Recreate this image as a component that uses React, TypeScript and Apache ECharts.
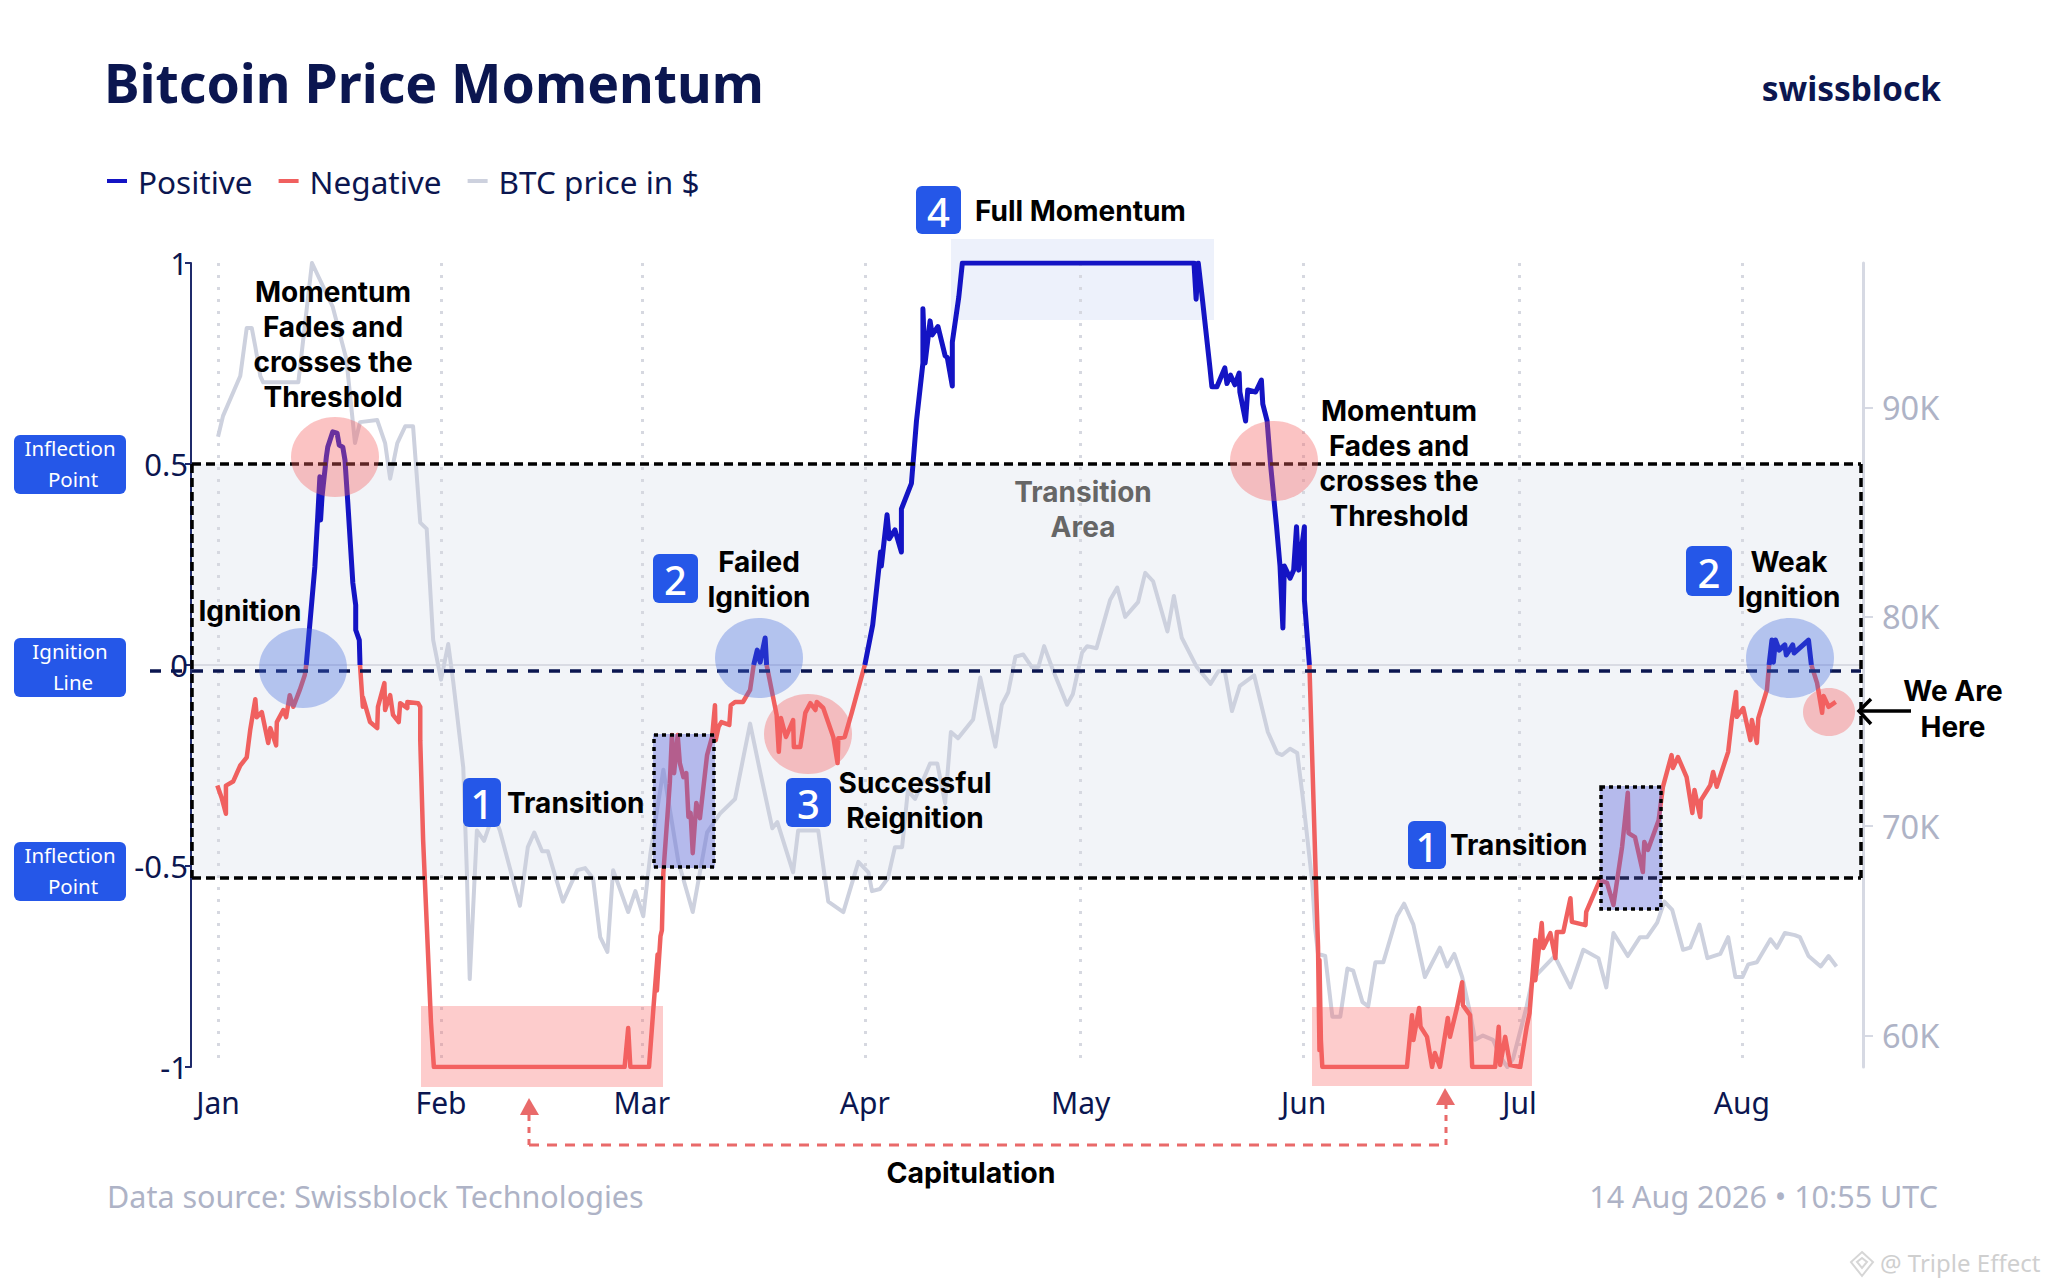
import React, { useEffect, useRef } from "react";
import * as echarts from "echarts";

const W = 2048;
const H = 1287;

const monthLabels = ["Jan", "Feb", "Mar", "Apr", "May", "Jun", "Jul", "Aug"];
const monthTicks = [0, 31.1, 59.1, 90.2, 120.3, 151.4, 181.5, 212.5];
const priceTicks = [60000, 70000, 80000, 90000];

const momentumDays = [
  -0.1, 0.5, 1.1, 1.1, 2.1, 3.1, 4, 4.5, 5.2, 5.4, 6.1, 7, 7.3, 8.1, 8.2, 9.1, 9.5, 10, 10.5, 11.4, 12.1, 12.3,
  13.5, 13.9, 14.2, 14.3, 14.5, 15.1, 15.3, 16, 16.6, 16.9, 17.4, 17.7, 18.1, 18.8, 19.2, 19.2, 19.7, 19.8,
  20.2, 20.2, 21.2, 22.2, 22.3, 23.2, 23.3, 24, 24.4, 25.2, 25.4, 26.4, 26.4, 27.9, 28.2, 28.2, 28.6, 29.1, 29.7, 30.1,
  56.7, 57.2, 57.5, 60.1, 60.7, 61.3, 61.2, 61.7, 61.9, 62.1, 63, 63.3, 63.6, 64.1, 64.4, 64.9, 65.3, 65.6, 65.9, 66.2, 66.7, 67.2,
  68.2, 68.9, 69.3, 69.4, 69.8, 70.2, 71.3, 71.5, 72.1, 73.2, 74.2, 74.7, 75.2, 75.6, 76.3, 76.5,
  76.7, 77.4, 77.9, 78.2, 78.5, 79.2, 80.2, 80.3, 81.2, 81.9, 82.6, 83.3, 83.5, 84.4, 85.8, 86.4, 86.5, 87.4, 88.4, 89.5, 90.2,
  91.3, 92.4, 92.5, 93.3, 93.6, 94.4, 95.3, 95.3, 96.7, 97.4, 98.3, 98.3, 98.6, 99.3, 99.6, 100.4, 101.4, 101.7, 102.4, 102.4, 103.3, 103.8,
  136.1, 136.4, 136.7, 137.3, 138.3, 138.6, 139.3, 140.4, 140.7, 141.2, 141.8, 142.4, 142.5, 143.3, 143.6, 144.7, 145.5, 145.7, 146.3, 146.8,
  147.6, 148.1, 148.5, 148.7, 149.5, 150, 150.4, 150.7, 151.5, 151.5, 152.2,
  153.1, 153.4, 153.6, 153.6, 153.8, 154, 165.8, 166.5, 166.7, 167.5, 167.7, 168.6, 169.3, 169.7, 170.4, 171.5, 171.8, 172.8, 173.5, 173.6, 174.6, 174.9,
  178.1, 178.6, 178.8, 179.5, 180.2, 181.6, 182.5, 182.9, 183.7, 183.7, 184.6, 184.8, 185.8, 186.5, 186.7, 187.6, 188.6, 188.8, 190.7, 190.8, 192.7, 193.7, 194.6,
  195.8, 196.6, 196.7, 197.6, 198.7, 198.9, 199.4, 200.9, 201.5, 202.7, 202.9, 203.6, 204.8, 205.6, 205.9, 206.7, 206.8, 208.1, 208.5, 209, 210.6, 211.1, 211.7, 211.8,
  212.7, 213.7, 213.9, 214.6, 214.8, 216, 216.3, 216.7, 216.9, 217.2, 217.7, 218.5, 218.7, 219.6, 219.8, 221.8, 222.2, 223, 223.7, 223.9, 224.6, 225.6,
];

const momentumValues = [
  -0.3, -0.33, -0.37, -0.3, -0.29, -0.25, -0.23, -0.16, -0.085, -0.13, -0.117, -0.194, -0.157, -0.2, -0.142, -0.112, -0.13, -0.075, -0.104, -0.062, -0.025, 0,
  0.244, 0.368, 0.468, 0.361, 0.418, 0.517, 0.542, 0.58, 0.577, 0.547, 0.542, 0.51, 0.403, 0.204, 0.149, 0.087, 0.062, 0,
  -0.104, -0.08, -0.142, -0.157, -0.104, -0.045, -0.112, -0.075, -0.124, -0.142, -0.095, -0.107, -0.092, -0.095, -0.104, -0.187, -0.435, -0.642, -0.89, -1,
  -1, -0.903, -1, -1, -0.858, -0.72, -0.81, -0.675, -0.66, -0.517, -0.294, -0.174, -0.269, -0.174, -0.244, -0.279, -0.269, -0.378, -0.368, -0.468, -0.343, -0.381,
  -0.224, -0.179, -0.1, -0.187, -0.154, -0.142, -0.149, -0.1, -0.092, -0.092, -0.062, 0, 0.037, 0.007, 0.067, 0,
  -0.017, -0.08, -0.124, -0.216, -0.132, -0.179, -0.137, -0.204, -0.204, -0.119, -0.095, -0.112, -0.092, -0.107, -0.179, -0.244, -0.182, -0.179, -0.117, -0.045, 0,
  0.1, 0.281, 0.246, 0.374, 0.314, 0.336, 0.281, 0.388, 0.452, 0.607, 0.751, 0.886, 0.751, 0.856, 0.821, 0.842, 0.769, 0.765, 0.694, 0.803, 0.915, 1,
  1, 0.91, 1, 0.906, 0.744, 0.692, 0.692, 0.739, 0.7, 0.721, 0.697, 0.726, 0.679, 0.607, 0.684, 0.679, 0.709, 0.649, 0.607, 0.495,
  0.348, 0.246, 0.092, 0.246, 0.216, 0.236, 0.344, 0.236, 0.344, 0.162, 0,
  -0.535, -0.7, -0.958, -0.734, -0.933, -1, -1, -0.871, -0.933, -0.853, -0.9, -0.925, -1, -0.965, -1, -0.878, -0.925, -0.851, -0.789, -0.846, -0.871, -1,
  -1, -0.9, -0.995, -0.925, -0.995, -1, -0.9, -0.866, -0.684, -0.784, -0.642, -0.704, -0.667, -0.729, -0.664, -0.664, -0.58, -0.639, -0.647, -0.614, -0.535, -0.542, -0.597,
  -0.453, -0.318, -0.418, -0.428, -0.515, -0.44, -0.46, -0.386, -0.303, -0.224, -0.256, -0.229, -0.279, -0.368, -0.311, -0.378, -0.336, -0.299, -0.266, -0.303, -0.216, -0.137, -0.067, -0.129,
  -0.107, -0.187, -0.137, -0.194, -0.132, -0.062, 0, 0.062, 0.007, 0.062, 0.037, 0.05, 0.025, 0.05, 0.03, 0.062, 0, -0.045, -0.119, -0.077, -0.104, -0.092,
];

const priceDays = [
  0, 0.7, 3.1, 4, 4.7, 5.2, 5.9, 6.3, 11.2, 13.1, 16, 17.9, 19.1, 19.8, 22.2, 23.3, 24, 25, 26.1, 27.2, 28.2, 29.1, 30, 31.1, 32.1, 32.8, 34.2, 34.7, 35.1, 36.1, 37.1, 38.4, 39.3,
  42.1, 43.2, 44.1, 45.2, 46, 48.1, 50.1, 51.2, 52.3, 53.3, 54.3, 55.1, 57.2, 58.2, 59.3, 60.3, 62.1, 64.2, 66.2, 68.2, 70, 72.1, 74.2, 75.6, 77.3, 78, 80.2, 80.9, 83.7, 85.1, 87.2, 89.3, 90.7,
  91.2, 92.3, 93.4, 94.4, 95.4, 96.2, 97.2, 99.3, 100.3, 101.4, 102.2, 103.2, 105.3, 106.3, 108.4, 109.3, 110.2, 111.2, 112.3, 113.5, 114.4, 115.2, 116.5, 118.4, 119.2, 120.5, 121.2, 122.5,
  124.4, 125.4, 126.5, 128.3, 129.3, 130.4, 132.4, 133.3, 134.4, 136.5, 138.4, 139.5, 140.4, 141.4, 142.5, 144.5, 146.4, 147.7, 148.4, 149.5, 150.5, 151.3, 152.6, 153, 153.4, 154.4, 155.4, 156.5,
  157.5, 158.3, 159.6, 160.4, 161.4, 162.5, 164.4, 165.4, 166.7, 168.3, 170.4, 171.4, 172.4, 173.5, 174.6, 175.3, 176.4, 177.8, 178.8, 179.8, 180.6, 182.5, 183.3, 186.4, 188.6, 190.4, 192.5, 193.6,
  194.6, 196.6, 198.3, 199.3, 200.7, 201.7, 202.8, 204.3, 205.3, 206.6, 207.7, 209.5, 210.6, 211.6, 212.6, 213.4, 214.6, 216.5, 217.4, 218.5, 219.9, 220.6, 221.8, 223.5, 224.6, 225.7,
];

const priceValues = [
  88600, 89600, 91500, 93800, 93800, 92900, 91500, 91200, 91200, 96900, 94800, 92300, 88300, 89300, 89400, 88300, 86600, 88300, 89100, 89100, 84500, 84200, 78900, 77000, 78700, 76900, 72800, 67800, 62700, 69800, 69300, 70600, 69800,
  66200, 69000, 69700, 68800, 68800, 66400, 67900, 68000, 67500, 64700, 64000, 67900, 65900, 66900, 65700, 68700, 72700, 68300, 65900, 69700, 70600, 71300, 74900, 72600, 69900, 70200, 67800, 69800, 69800, 66400, 65900, 68300, 67800,
  66900, 67000, 67500, 69000, 69000, 71700, 71300, 73000, 73000, 71100, 74500, 74200, 75100, 77100, 73800, 75800, 76400, 78100, 78200, 77600, 77600, 78600, 77400, 75800, 76300, 78300, 78600, 78500,
  80800, 81400, 80000, 80700, 82100, 81700, 79300, 81000, 79000, 77600, 76800, 77400, 77400, 75500, 76700, 77200, 74500, 73500, 73400, 73700, 73500, 71300, 67300, 65100, 63900, 63800, 60900, 60900,
  63200, 63100, 61600, 61400, 63500, 63500, 65700, 66300, 65300, 62800, 64200, 63300, 63900, 62800, 61100, 59800, 60000, 59800, 59000, 58500, 58900, 61400, 62700, 63800, 62300, 64100, 63700, 62300,
  64900, 63800, 64700, 64700, 65400, 66400, 66000, 64100, 64200, 65300, 63700, 63900, 64700, 62800, 62800, 63400, 63500, 64600, 64200, 64900, 64800, 64700, 63800, 63300, 63800, 63300,
];

const NAVY = "#0B1650";
const BLUE = "#2557E8";
const GREY_TEXT = "#AEB3C6";
const BODY_FONT = '"Noto Sans", sans-serif';
const NOTE_FONT = 'Inter, sans-serif';

echarts.graphic.registerShape("diamondMark", echarts.graphic.extendPath("M0 -10 L11 0 L0 14 L-11 0 Z M0 -4 L5 0 L0 6 L-5 0 Z", {}));

function text(x: number, y: number, s: string, size: number, fill = "#000", align = "center", weight = 700, family = NOTE_FONT, z = 30) {
  return { type: "text", x, y, z, silent: true, style: { text: s, fill, align, verticalAlign: "middle", font: `${weight} ${size}px ${family}` } };
}
function lines(x: number, ys: number[], strs: string[], size: number, fill = "#000", weight = 700) {
  return strs.map((s, i) => text(x, ys[i], s, size, fill, "center", weight));
}
function rect(x: number, y: number, w: number, h: number, fill: string, z: number, r = 0, extra: any = {}) {
  return { type: "rect", z, silent: true, shape: { x, y, width: w, height: h, r }, style: { fill, ...extra } };
}
function line(x1: number, y1: number, x2: number, y2: number, stroke: string, dash: number[] | null, lineWidth = 3.5, z = 6) {
  return { type: "line", z, silent: true, shape: { x1, y1, x2, y2 }, style: { stroke, lineWidth, lineDash: dash || undefined } };
}
function ellipse(cx: number, cy: number, rx: number, ry: number, fill: string) {
  return { type: "ellipse", z: 10, silent: true, shape: { cx, cy, rx, ry }, style: { fill } };
}
function badge(x: number, y: number, w: number, h: number, s: string) {
  return [rect(x, y, w, h, BLUE, 20, 6), text(x + w / 2, y + h / 2 + 1, s, 40, "#fff", "center", 500, BODY_FONT)];
}
function sideTag(y: number, a: string, b: string) {
  return [
    rect(14, y, 112, 59, BLUE, 20, 6),
    text(70, y + 13, a, 20.5, "#fff", "center", 400, BODY_FONT),
    text(73, y + 44, b, 20.5, "#fff", "center", 400, BODY_FONT),
  ];
}

const RED_FILL = "rgba(244,96,96,0.38)";
const PINK_BAND = "rgba(248,100,100,0.33)";
const BLUE_FILL = "rgba(62,102,220,0.35)";
const BOX_FILL = "rgba(82,92,216,0.38)";

const graphicElements: any[] = [
  rect(192, 464, 1669, 414, "#F2F4F8", 0),
  rect(951, 239, 263, 81, "#EDF1FB", 0),
  line(192, 665, 1861, 665, "#D9DBE3", null, 2, 1),

  rect(421, 1006, 242, 81, PINK_BAND, 10),
  rect(1312, 1007, 220, 79, PINK_BAND, 10),
  rect(653, 734, 62, 134, BOX_FILL, 10),
  rect(1600, 786, 62, 124, BOX_FILL, 10),
  { type: "rect", z: 11, silent: true, shape: { x: 654, y: 735, width: 60, height: 132 }, style: { fill: "none", stroke: "#000", lineWidth: 3.5, lineDash: [4, 4] } },
  { type: "rect", z: 11, silent: true, shape: { x: 1601, y: 787, width: 60, height: 122 }, style: { fill: "none", stroke: "#000", lineWidth: 3.5, lineDash: [4, 4] } },

  ellipse(335, 457, 44, 40, RED_FILL),
  ellipse(303, 668, 44, 40, BLUE_FILL),
  ellipse(759, 658, 44, 40, BLUE_FILL),
  ellipse(808, 734, 44, 40, RED_FILL),
  ellipse(1274, 461, 44, 40, RED_FILL),
  ellipse(1790, 658, 44, 40, BLUE_FILL),
  ellipse(1829, 712, 26, 24, RED_FILL),

  line(192, 464, 1861, 464, "#000", [9, 5]),
  line(192, 878, 1861, 878, "#000", [9, 5]),
  line(192, 464, 192, 878, "#000", [9, 5]),
  line(1861, 464, 1861, 878, "#000", [9, 5]),
  line(150, 671, 1861, 671, NAVY, [11, 10]),

  line(1911, 711, 1860, 711, "#000", null, 3.5, 30),
  { type: "polyline", z: 30, silent: true, shape: { points: [[1871, 699], [1859, 711], [1871, 724]] }, style: { stroke: "#000", lineWidth: 3.5, fill: "none" } },

  line(529, 1115, 529, 1145, "#E96A6A", [6, 6], 3),
  line(529, 1145, 1446, 1145, "#E96A6A", [10, 8], 3),
  line(1446, 1145, 1446, 1105, "#E96A6A", [6, 6], 3),
  { type: "polygon", z: 20, silent: true, shape: { points: [[529, 1098], [520, 1115], [539, 1115]] }, style: { fill: "#E96A6A" } },
  { type: "polygon", z: 20, silent: true, shape: { points: [[1445, 1088], [1436, 1105], [1455, 1105]] }, style: { fill: "#E96A6A" } },

  ...sideTag(435, "Inflection", "Point"),
  ...sideTag(638, "Ignition", "Line"),
  ...sideTag(842, "Inflection", "Point"),

  ...badge(916, 186, 45, 48, "4"),
  ...badge(653, 554, 45, 49, "2"),
  ...badge(463, 778, 38, 49, "1"),
  ...badge(786, 778, 45, 49, "3"),
  ...badge(1408, 821, 38, 48, "1"),
  ...badge(1686, 546, 46, 50, "2"),

  ...lines(333, [292, 327, 362, 397], ["Momentum", "Fades and", "crosses the", "Threshold"], 28),
  text(250, 611, "Ignition", 28),
  ...lines(759, [562, 597], ["Failed", "Ignition"], 28),
  text(507, 803, "Transition", 28, "#000", "left"),
  ...lines(915, [783, 818], ["Successful", "Reignition"], 28),
  text(975, 211, "Full Momentum", 28, "#000", "left"),
  ...lines(1083, [492, 527], ["Transition", "Area"], 28, "#666"),
  ...lines(1399, [411, 446, 481, 516], ["Momentum", "Fades and", "crosses the", "Threshold"], 28),
  text(1450, 845, "Transition", 28, "#000", "left"),
  ...lines(1789, [562, 597], ["Weak", "Ignition"], 28),
  ...lines(1953, [691, 727], ["We Are", "Here"], 28),
  text(971, 1172, "Capitulation", 28.5),

  text(104, 82, "Bitcoin Price Momentum", 53.5, NAVY, "left", 700, BODY_FONT),
  text(1941, 88, "swissblock", 33.5, NAVY, "right", 700, BODY_FONT),
  text(107, 1196, "Data source: Swissblock Technologies", 30.5, GREY_TEXT, "left", 400, BODY_FONT),
  text(1938, 1196, "14 Aug 2026 • 10:55 UTC", 30.5, GREY_TEXT, "right", 400, BODY_FONT),
  text(1880, 1262, "@ Triple Effect", 24, "#CFCFCF", "left", 400, BODY_FONT),
  { type: "diamondMark", x: 1862, y: 1262, z: 30, silent: true, style: { fill: "none", stroke: "#D6D6D6", lineWidth: 2 } },
];

const positive = momentumDays.map((d, i) => [d, momentumValues[i] >= 0 ? momentumValues[i] : null]);
const negative = momentumDays.map((d, i) => [d, momentumValues[i] <= 0 ? momentumValues[i] : null]);
const price = priceDays.map((d, i) => [d, priceValues[i]]);

export default function App() {
  const ref = useRef<HTMLDivElement>(null);
  useEffect(() => {
    document.body.style.margin = "0";
    const chart = echarts.init(ref.current!, undefined, { renderer: "svg" });
    chart.setOption({
      animation: false,
      backgroundColor: "#fff",
      textStyle: { fontFamily: BODY_FONT },
      legend: {
        left: 107, top: 165, padding: 0, itemWidth: 20, itemHeight: 4, itemGap: 26, icon: "rect",
        selectedMode: false,
        textStyle: { color: NAVY, fontSize: 31.5, fontFamily: BODY_FONT, padding: [0, 0, 0, 6] },
        data: ["Positive", "Negative", "BTC price in $"],
      },
      grid: { left: 191, top: 263, width: 1672, height: 804, containLabel: false },
      xAxis: {
        type: "value", min: -3.77, max: 229.4,
        axisLine: { show: false },
        axisTick: { show: false, customValues: monthTicks },
        axisLabel: {
          customValues: monthTicks, margin: 20, fontSize: 30, color: NAVY, fontFamily: BODY_FONT,
          formatter: (v: number) => monthLabels[monthTicks.indexOf(v)] ?? "",
        },
        splitLine: { show: true, lineStyle: { color: "#D6D8E0", width: 3, type: [3, 9] } },
      },
      yAxis: [
        {
          type: "value", min: -1, max: 1, interval: 0.5,
          axisLine: { show: true, onZero: false, lineStyle: { color: "#1F2A6B", width: 2 } },
          axisTick: { show: true, length: 6, lineStyle: { color: "#1F2A6B", width: 2 } },
          axisLabel: { margin: 3, fontSize: 31, color: NAVY, fontFamily: BODY_FONT },
          splitLine: { show: false },
        },
        {
          type: "value", position: "right", min: 58500, max: 96900,
          axisLine: { show: true, onZero: false, lineStyle: { color: "#D6D9E3", width: 3 } },
          axisTick: { show: true, length: 10, customValues: priceTicks, lineStyle: { color: "#D6D9E3", width: 2 } },
          axisLabel: {
            customValues: priceTicks, margin: 19, fontSize: 32.5, color: GREY_TEXT, fontFamily: BODY_FONT,
            formatter: (v: number) => `${v / 1000}K`,
          },
          splitLine: { show: false },
        },
      ],
      series: [
        { name: "BTC price in $", type: "line", yAxisIndex: 1, data: price, showSymbol: false, symbol: "none", silent: true, z: 2, itemStyle: { color: "#CDD1DE" }, lineStyle: { color: "#CDD1DE", width: 4, join: "round" } },
        { name: "Negative", type: "line", data: negative, showSymbol: false, symbol: "none", silent: true, z: 3, connectNulls: false, itemStyle: { color: "#F0605F" }, lineStyle: { color: "#F0605F", width: 4.5, join: "round" } },
        { name: "Positive", type: "line", data: positive, showSymbol: false, symbol: "none", silent: true, z: 3, connectNulls: false, itemStyle: { color: "#1414C4" }, lineStyle: { color: "#1414C4", width: 5, join: "round" } },
      ],
      graphic: { elements: graphicElements },
    });
    return () => chart.dispose();
  }, []);
  return <div ref={ref} style={{ width: W, height: H }} />;
}
